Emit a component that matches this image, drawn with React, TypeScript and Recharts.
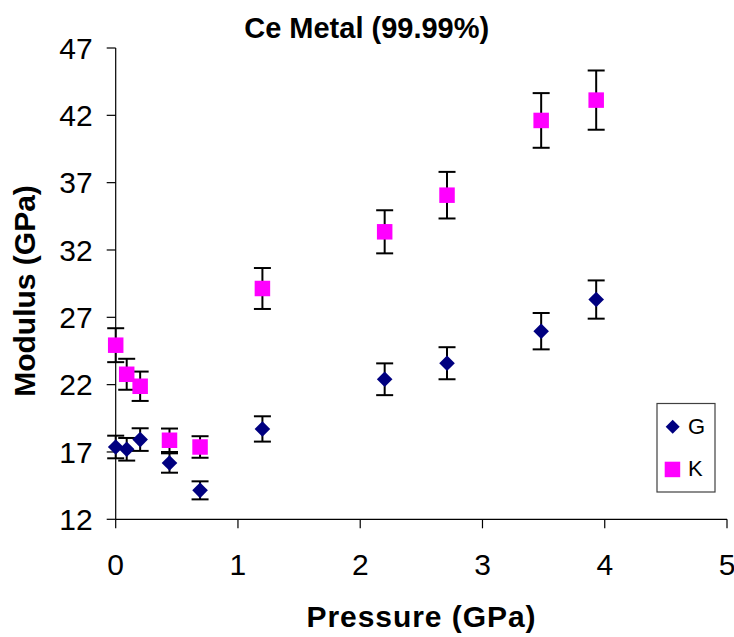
import React from 'react';
import { ScatterChart, Scatter, XAxis, YAxis, ErrorBar } from 'recharts';

// Pressure points (GPa) shared by both moduli
const pressure = [0, 0.09, 0.2, 0.44, 0.69, 1.2, 2.2, 2.71, 3.48, 3.93];
// Shear modulus G (GPa) and its uncertainty
const shearG = [17.37, 17.2, 17.92, 16.18, 14.15, 18.71, 22.4, 23.59, 25.97, 28.32];
const shearGErr = [0.84, 0.84, 0.84, 0.72, 0.67, 0.94, 1.18, 1.19, 1.35, 1.42];
// Bulk modulus K (GPa) and its uncertainty
const bulkK = [24.93, 22.77, 21.88, 17.87, 17.37, 29.14, 33.35, 36.07, 41.62, 43.13];
const bulkKErr = [1.26, 1.15, 1.09, 0.87, 0.8, 1.52, 1.6, 1.73, 2.03, 2.2];

const xTicks = [0, 1, 2, 3, 4, 5];
const yTicks = [12, 17, 22, 27, 32, 37, 42, 47];

const seriesNames = ['G', 'K'];
const NAVY = '#000080';
const MAGENTA = '#FF00FF';
const FONT = '"Liberation Sans", Arial, Helvetica, sans-serif';

const gData = pressure.map((p, i) => ({ p, v: shearG[i], err: shearGErr[i] }));
const kData = pressure.map((p, i) => ({ p, v: bulkK[i], err: bulkKErr[i] }));

const Diamond = (props: any) => {
  const { cx, cy } = props;
  const r = 7.8;
  return (
    <polygon
      points={`${cx},${cy - r} ${cx + r},${cy} ${cx},${cy + r} ${cx - r},${cy}`}
      fill={NAVY}
    />
  );
};

const Square = (props: any) => {
  const { cx, cy } = props;
  const s = 15.5;
  return <rect x={cx - s / 2} y={cy - s / 2} width={s} height={s} fill={MAGENTA} />;
};

export default function App() {
  return (
    <div style={{ position: 'absolute', left: 0, top: 0, width: 734, height: 637, background: '#fff' }}>
      <ScatterChart
        width={734}
        height={637}
        margin={{ top: 48, right: 7, bottom: 57.7, left: 15.7 }}
      >
        <XAxis
          type="number"
          dataKey="p"
          domain={[0, 5]}
          ticks={xTicks}
          interval={0}
          height={60}
          tickSize={9}
          tickMargin={25}
          axisLine={{ stroke: '#000', strokeWidth: 1.2 }}
          tickLine={{ stroke: '#000', strokeWidth: 1.2 }}
          tick={{ fill: '#000', fontSize: 30, fontFamily: FONT }}
        />
        <YAxis
          type="number"
          dataKey="v"
          domain={[12, 47]}
          ticks={yTicks}
          interval={0}
          width={100}
          tickSize={9}
          tickMargin={14}
          axisLine={{ stroke: '#000', strokeWidth: 1.2 }}
          tickLine={{ stroke: '#000', strokeWidth: 1.2 }}
          tick={{ fill: '#000', fontSize: 30, fontFamily: FONT }}
        />
        <Scatter name={seriesNames[0]} data={gData} shape={Diamond} isAnimationActive={false}>
          <ErrorBar dataKey="err" direction="y" width={8.5} stroke="#000" strokeWidth={2} isAnimationActive={false} />
        </Scatter>
        <Scatter name={seriesNames[1]} data={kData} shape={Square} isAnimationActive={false}>
          <ErrorBar dataKey="err" direction="y" width={8.5} stroke="#000" strokeWidth={2} isAnimationActive={false} />
        </Scatter>
      </ScatterChart>
      <svg
        width={734}
        height={637}
        style={{ position: 'absolute', left: 0, top: 0, pointerEvents: 'none' }}
        fontFamily={FONT}
      >
        <text x={366.7} y={38.3} textAnchor="middle" fontSize={29} fontWeight="bold" fill="#000">
          Ce Metal (99.99%)
        </text>
        <text
          x={421}
          y={626.7}
          textAnchor="middle"
          fontSize={30}
          fontWeight="bold"
          fill="#000"
          textLength={229}
        >
          Pressure (GPa)
        </text>
        <text
          x={35}
          y={291}
          textAnchor="middle"
          fontSize={30}
          fontWeight="bold"
          fill="#000"
          transform="rotate(-90, 35, 291)"
        >
          Modulus (GPa)
        </text>
        <g>
          <rect x={657} y={403.5} width={58} height={88.5} fill="#fff" stroke="#404040" strokeWidth={1.2} />
          <polygon points="672.7,419.7 679.7,426.7 672.7,433.7 665.7,426.7" fill={NAVY} />
          <text x={688} y={434} fontSize={22} fill="#000">{seriesNames[0]}</text>
          <rect x={664.7} y={461.7} width={15.5} height={15.5} fill={MAGENTA} />
          <text x={688} y={476} fontSize={22} fill="#000">{seriesNames[1]}</text>
        </g>
      </svg>
    </div>
  );
}
